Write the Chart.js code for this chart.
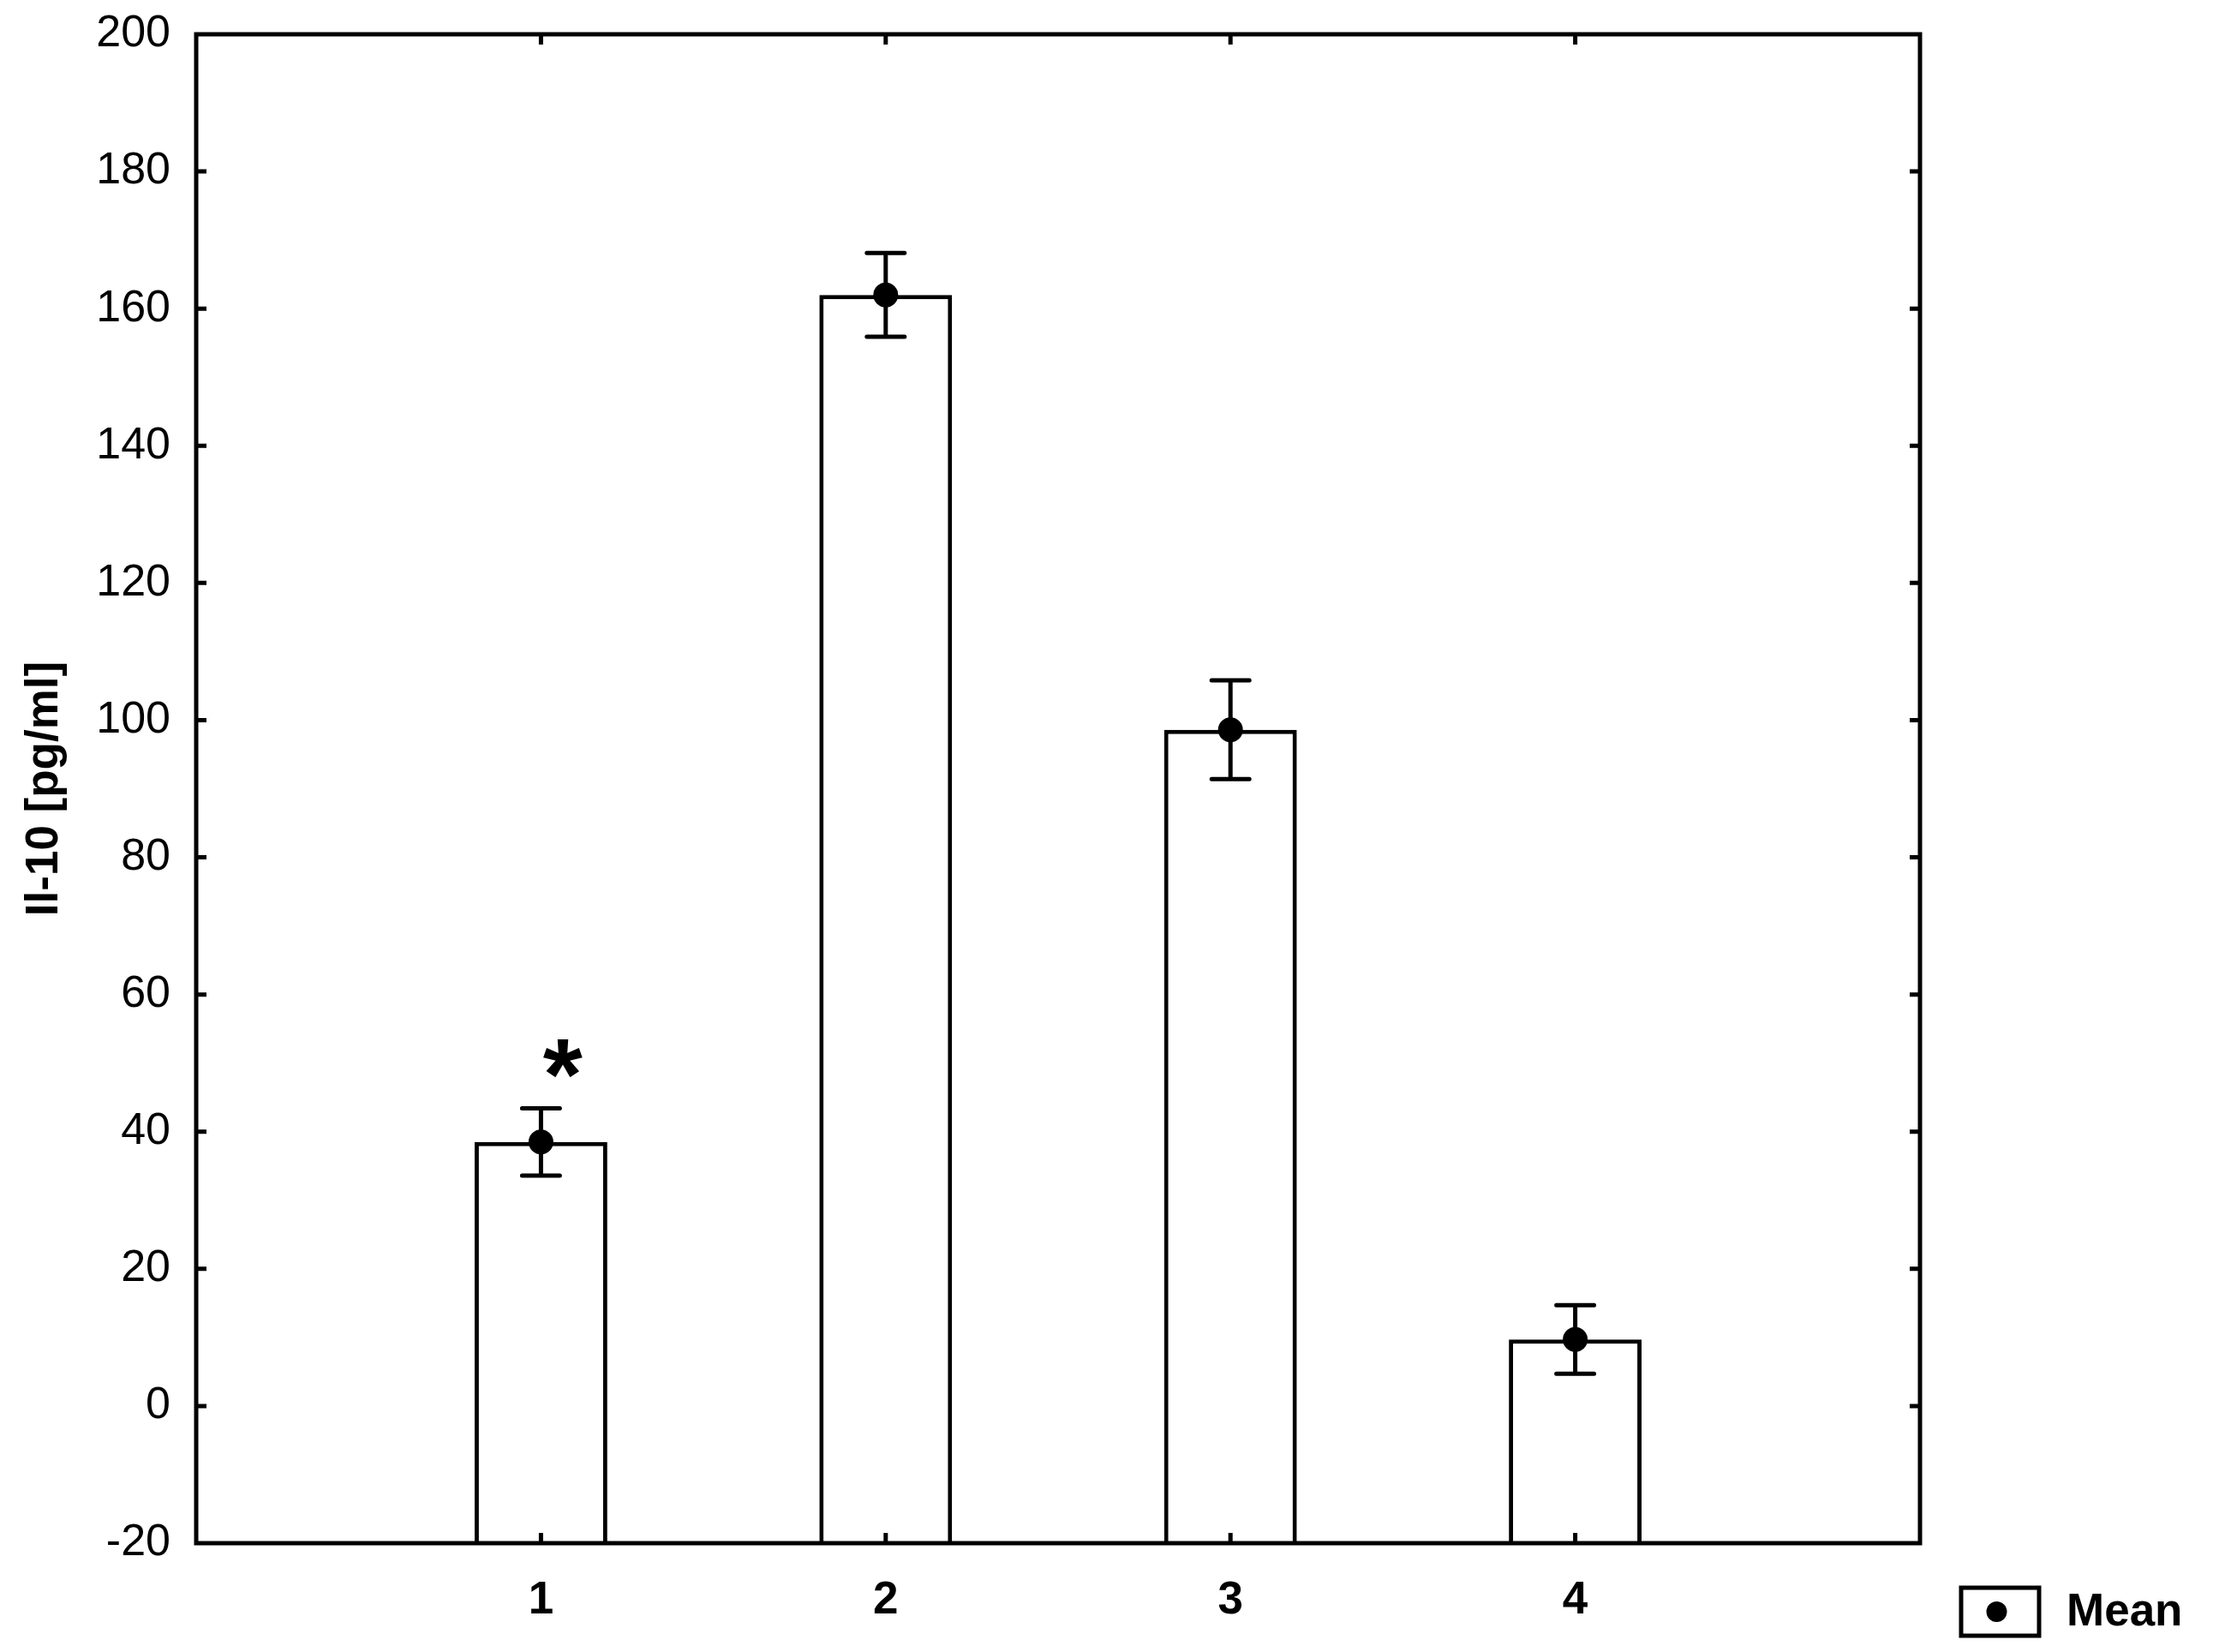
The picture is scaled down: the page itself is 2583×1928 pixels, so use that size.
<!DOCTYPE html>
<html>
<head>
<meta charset="utf-8">
<title>Il-10</title>
<script src="https://cdn.jsdelivr.net/npm/chart.js@4.4.1/dist/chart.umd.min.js"></script>
<style>
  html, body { margin: 0; padding: 0; background: #fff; }
  #wrap { width: 2583px; height: 1928px; }
</style>
</head>
<body>
<div id="wrap"><canvas id="chart" width="2583" height="1928"></canvas></div>
<script>
// datos
const groups = [1, 2, 3, 4];
const groupLabels = ['1', '2', '3', '4'];
const means = [38.5, 162.0, 98.6, 9.7];
const errors = [4.9, 6.1, 7.2, 5.0];
const yRange = [-20, 200];
const yStep = 20;
const xRange = [0, 5];
const starMark = [1.063, 50.7];
const legendText = 'Mean';
const yTitle = 'Il-10 [pg/ml]';

const FONT = '"Liberation Sans", Arial, Helvetica, sans-serif';
const LW = 5;

// marco y marcas hacia dentro
const framePlugin = {
  id: 'frame',
  afterDraw(chart) {
    const { ctx, chartArea: a, scales: { x, y } } = chart;
    ctx.save();
    ctx.strokeStyle = '#000';
    ctx.lineWidth = LW;
    ctx.lineCap = 'butt';
    const len = 12;
    y.ticks.forEach(t => {
      if (t.value <= yRange[0] || t.value >= yRange[1]) return;
      const py = y.getPixelForValue(t.value);
      ctx.beginPath();
      ctx.moveTo(a.left, py); ctx.lineTo(a.left + len, py);
      ctx.moveTo(a.right, py); ctx.lineTo(a.right - len, py);
      ctx.stroke();
    });
    groups.forEach(g => {
      const px = x.getPixelForValue(g);
      ctx.beginPath();
      ctx.moveTo(px, a.bottom); ctx.lineTo(px, a.bottom - len);
      ctx.moveTo(px, a.top); ctx.lineTo(px, a.top + len);
      ctx.stroke();
    });
    ctx.lineJoin = 'miter';
    ctx.strokeRect(a.left, a.top, a.right - a.left, a.bottom - a.top);
    ctx.restore();
  }
};

// barras de error, asterisco y leyenda
const extrasPlugin = {
  id: 'extras',
  afterDatasetsDraw(chart) {
    const { ctx, scales: { x, y } } = chart;
    ctx.save();
    ctx.strokeStyle = '#000';
    ctx.lineWidth = LW;
    ctx.lineCap = 'round';
    const cap = 22;
    groups.forEach((g, i) => {
      const px = x.getPixelForValue(g);
      const hi = y.getPixelForValue(means[i] + errors[i]);
      const lo = y.getPixelForValue(means[i] - errors[i]);
      ctx.beginPath();
      ctx.moveTo(px, hi); ctx.lineTo(px, lo);
      ctx.moveTo(px - cap, hi); ctx.lineTo(px + cap, hi);
      ctx.moveTo(px - cap, lo); ctx.lineTo(px + cap, lo);
      ctx.stroke();
    });
    ctx.restore();
  },
  afterDraw(chart) {
    const { ctx, scales: { x, y } } = chart;
    ctx.save();
    // asterisco
    ctx.fillStyle = '#000';
    ctx.font = 'bold 100px ' + FONT;
    let m = ctx.measureText('*');
    const h100 = m.actualBoundingBoxAscent + m.actualBoundingBoxDescent;
    const size = 100 * 45 / h100;
    ctx.font = 'bold ' + size.toFixed(1) + 'px ' + FONT;
    m = ctx.measureText('*');
    ctx.textAlign = 'center';
    ctx.textBaseline = 'alphabetic';
    const sx = x.getPixelForValue(starMark[0]);
    const sy = y.getPixelForValue(starMark[1]);
    ctx.fillText('*', sx, sy + (m.actualBoundingBoxAscent - m.actualBoundingBoxDescent) / 2);

    // leyenda
    const bx = 2289, by = 1853, bw = 91, bh = 56;
    ctx.lineWidth = LW;
    ctx.strokeStyle = '#000';
    ctx.strokeRect(bx, by, bw, bh);
    ctx.beginPath();
    ctx.arc(bx + bw / 2 - 4, by + bh / 2, 12, 0, Math.PI * 2);
    ctx.fill();
    ctx.font = 'bold 53px ' + FONT;
    ctx.textAlign = 'left';
    ctx.textBaseline = 'middle';
    ctx.fillText(legendText, 2412, 1882);
    ctx.restore();
  }
};

const barData = groups.map((g, i) => ({ x: g, y: means[i] }));

new Chart(document.getElementById('chart').getContext('2d'), {
  type: 'bar',
  data: {
    datasets: [
      {
        type: 'scatter',
        label: legendText,
        data: barData,
        pointRadius: 14.5,
        pointBackgroundColor: '#000',
        pointBorderWidth: 0,
        showLine: false,
        order: 0
      },
      {
        type: 'bar',
        label: 'bars',
        data: barData,
        base: yRange[0],
        backgroundColor: '#fff',
        borderColor: '#000',
        borderWidth: LW,
        borderSkipped: 'start',
        barPercentage: 0.385,
        categoryPercentage: 1,
        order: 1
      }
    ]
  },
  options: {
    responsive: false,
    animation: false,
    devicePixelRatio: 1,
    layout: { padding: { left: 0, top: 40, right: 342, bottom: 0 } },
    plugins: { legend: { display: false }, tooltip: { enabled: false } },
    scales: {
      x: {
        type: 'linear',
        min: xRange[0],
        max: xRange[1],
        offset: false,
        grid: { display: false, drawTicks: false, offset: false },
        border: { display: false },
        ticks: {
          stepSize: 1,
          padding: 36,
          color: '#000',
          font: { family: FONT, size: 53, weight: 'bold' },
          maxRotation: 0,
          autoSkip: false,
          callback: v => {
            const i = groups.indexOf(v);
            return i === -1 ? '' : groupLabels[i];
          }
        },
        afterFit: s => { s.height = 127; s.paddingLeft = 0; s.paddingRight = 0; }
      },
      y: {
        min: yRange[0],
        max: yRange[1],
        grid: { display: false, drawTicks: false },
        border: { display: false },
        ticks: {
          stepSize: yStep,
          padding: 30,
          color: '#000',
          font: { family: FONT, size: 52 }
        },
        title: {
          display: true,
          text: yTitle,
          color: '#000',
          padding: { top: 21, bottom: 0 },
          font: { family: FONT, size: 53, weight: 'bold' }
        },
        afterFit: s => { s.width = 229; s.paddingTop = 0; s.paddingBottom = 0; }
      }
    }
  },
  plugins: [framePlugin, extrasPlugin]
});
</script>
</body>
</html>
